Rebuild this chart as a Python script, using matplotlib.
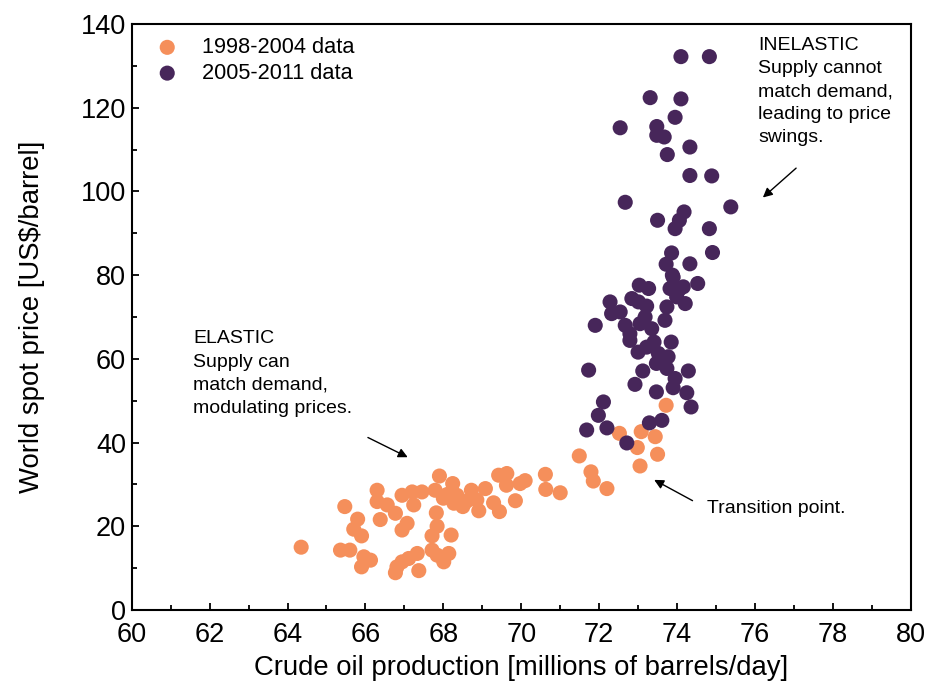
import matplotlib
matplotlib.use("Agg")
import matplotlib.pyplot as plt
from matplotlib.ticker import MultipleLocator

plt.rcParams['font.family'] = ['Liberation Sans', 'DejaVu Sans']

# monthly points, 1998-2004: production (Mb/d) and spot price (US$/barrel)
early_prod = [64.35, 65.47, 65.80, 65.70, 65.90, 65.36, 65.60, 65.96, 66.13, 65.90,
              66.30, 66.30, 66.56, 66.38, 66.77, 66.94, 67.20, 67.45, 67.24, 67.07,
              66.94, 67.79, 67.90, 68.24, 68.00, 67.82, 67.84, 67.71, 68.20, 68.27,
              68.50, 68.35, 68.72, 68.86, 68.91, 69.08, 69.29, 69.44, 69.42, 69.63,
              69.62, 69.85, 69.97, 70.10, 70.62, 70.63, 71.00, 71.49, 66.81, 66.77,
              66.94, 67.11, 67.33, 67.37, 67.71, 67.84, 68.01, 68.14, 73.72, 72.52,
              73.08, 73.44, 72.98, 73.50, 73.05, 71.79, 71.85, 72.20, 68.10, 68.60]
early_price = [15.0, 24.7, 21.7, 19.3, 17.7, 14.3, 14.3, 12.7, 11.9, 10.3,
               28.6, 25.9, 25.1, 21.6, 23.1, 27.4, 28.2, 28.2, 25.1, 20.7,
               19.1, 28.6, 32.0, 30.2, 26.7, 23.2, 20.0, 17.7, 17.9, 25.5,
               24.7, 27.4, 28.6, 26.3, 23.7, 29.0, 25.6, 23.5, 32.2, 32.6,
               29.8, 26.1, 30.2, 30.9, 32.4, 28.8, 28.0, 36.8, 10.3, 8.9,
               11.5, 12.3, 13.5, 9.4, 14.3, 13.1, 11.5, 13.5, 48.9, 42.2,
               42.6, 41.4, 38.8, 37.2, 34.4, 33.0, 30.8, 29.0, 27.6, 26.0]

# monthly points, 2005-2011
late_prod = [72.92, 73.47, 73.90, 74.25, 74.36, 72.11, 71.98, 71.68, 72.20, 72.71,
             73.29, 73.61, 73.03, 73.27, 72.28, 72.32, 72.54, 72.84, 73.01, 73.22,
             73.18, 71.90, 72.67, 72.79, 73.05, 73.35, 73.69, 73.74, 73.82, 73.90,
             74.16, 74.21, 73.99, 74.53, 72.79, 73.00, 73.22, 73.41, 73.52, 73.47,
             73.77, 73.85, 73.74, 73.95, 74.29, 73.12, 71.73, 74.10, 74.83, 73.31,
             74.10, 73.95, 72.54, 73.48, 73.48, 73.67, 74.33, 73.75, 74.33, 74.89,
             72.67, 75.38, 74.18, 74.06, 73.95, 73.50, 74.83, 73.86, 73.72, 74.33,
             74.91, 73.88, 74.05]
late_price = [53.9, 52.1, 53.1, 51.9, 48.5, 49.7, 46.5, 43.0, 43.5, 39.9,
              44.7, 45.3, 77.6, 76.8, 73.6, 70.8, 71.2, 74.4, 73.6, 72.6,
              70.0, 68.0, 68.0, 66.0, 68.4, 67.2, 69.2, 72.4, 76.8, 79.5,
              77.2, 73.2, 74.8, 78.0, 64.4, 61.6, 62.8, 64.0, 61.3, 58.9,
              60.5, 64.0, 57.7, 55.3, 57.1, 57.1, 57.3, 132.2, 132.2, 122.4,
              122.1, 117.7, 115.2, 115.5, 113.4, 113.0, 110.6, 108.8, 103.8, 103.7,
              97.4, 96.3, 95.1, 93.1, 91.1, 93.1, 91.1, 85.3, 82.6, 82.7,
              85.4, 80.0, 76.5]

orange = '#F58F5B'
purple = '#47265A'

fig = plt.figure(figsize=(9.25, 6.89), dpi=100)
ax = fig.add_axes([0.1424, 0.1147, 0.8422, 0.8505])

ax.scatter(early_prod, early_price, s=118, color=orange, edgecolors='none',
           label='1998-2004 data', zorder=3)
ax.scatter(late_prod, late_price, s=118, color=purple, edgecolors='none',
           label='2005-2011 data', zorder=3)

ax.set_xlim(60, 80)
ax.set_ylim(0, 140)
ax.xaxis.set_major_locator(MultipleLocator(2))
ax.xaxis.set_minor_locator(MultipleLocator(1))
ax.yaxis.set_major_locator(MultipleLocator(20))
ax.yaxis.set_minor_locator(MultipleLocator(10))
ax.tick_params(which='both', direction='in', top=False, right=False,
               labelsize=19.5, width=1.3)
ax.tick_params(which='major', length=5)
ax.tick_params(which='minor', length=3.5)
ax.tick_params(axis='x', which='major', pad=9)
ax.tick_params(axis='y', which='major', pad=4)
for sp in ax.spines.values():
    sp.set_linewidth(1.5)

ax.set_xlabel('Crude oil production [millions of barrels/day]', fontsize=19.8, labelpad=5)
ax.set_ylabel('World spot price [US\\$/barrel]', fontsize=19.8, labelpad=26)

ax.legend(loc='upper left', frameon=False, fontsize=15.7, handletextpad=1.0,
          handlelength=1.2, labelspacing=0.22, borderaxespad=0.2,
          bbox_to_anchor=(0.012, 1.0))

arrow = dict(arrowstyle='-|>', color='black', lw=1.0, mutation_scale=14)

ax.text(76.08, 137.0, 'INELASTIC\nSupply cannot\nmatch demand,\nleading to price\nswings.',
        fontsize=14, va='top', ha='left', linespacing=1.48)
ax.annotate('', xy=(76.15, 98.1), xytext=(77.11, 106.0), arrowprops=arrow)

ax.text(61.58, 66.8, 'ELASTIC\nSupply can\nmatch demand,\nmodulating prices.',
        fontsize=14, va='top', ha='left', linespacing=1.48)
ax.annotate('', xy=(67.15, 36.2), xytext=(66.0, 41.5), arrowprops=arrow)

ax.text(74.76, 24.3, 'Transition point.', fontsize=14, va='center', ha='left')
ax.annotate('', xy=(73.35, 31.4), xytext=(74.46, 25.8), arrowprops=arrow)

fig.savefig('out.png', dpi=100)
